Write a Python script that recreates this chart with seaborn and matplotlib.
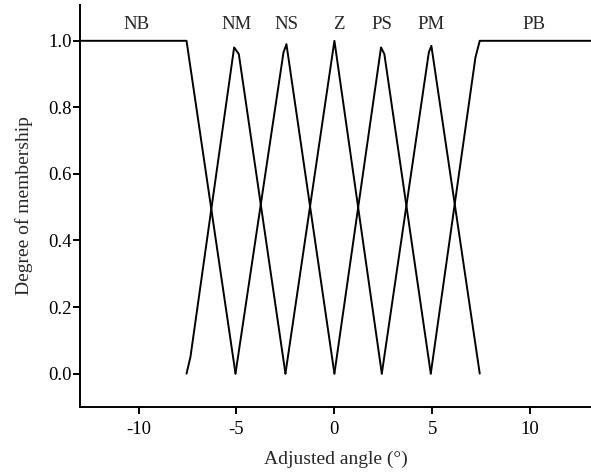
import matplotlib
matplotlib.use("Agg")
import numpy as np
import pandas as pd
import seaborn as sns
import matplotlib.pyplot as plt

# membership functions (x = adjusted angle, y = degree)
nb_x = [-13.6, -7.55, -5.05]
nb_y = [1.0, 1.0, 0.0]
nm_x = [-7.55, -7.35, -5.12, -4.88, -2.5]
nm_y = [0.0, 0.05, 0.98, 0.96, 0.0]
ns_x = [-5.05, -2.6, -2.45, 0.0]
ns_y = [0.0, 0.965, 0.99, 0.0]
z_x = [-2.5, 0.0, 2.42]
z_y = [0.0, 1.0, 0.0]
ps_x = [0.0, 2.38, 2.55, 4.92]
ps_y = [0.0, 0.98, 0.96, 0.0]
pm_x = [2.42, 4.82, 4.95, 7.42]
pm_y = [0.0, 0.965, 0.985, 0.0]
pb_x = [4.92, 7.2, 7.42, 13.6]
pb_y = [0.0, 0.95, 1.0, 1.0]

set_names = ["NB", "NM", "NS", "Z", "PS", "PM", "PB"]
label_x = [-10.1, -5.0, -2.45, 0.25, 2.4, 4.95, 10.2]

sns.set_style("ticks")
plt.rcParams["font.family"] = ["Liberation Serif", "DejaVu Serif"]
plt.rcParams["axes.unicode_minus"] = False

fig = plt.figure(figsize=(5.91, 4.72), dpi=100)
ax = fig.add_axes([0.135, 0.138, 0.865, 0.851])

curves = [(nb_x, nb_y), (nm_x, nm_y), (ns_x, ns_y), (z_x, z_y),
          (ps_x, ps_y), (pm_x, pm_y), (pb_x, pb_y)]
for name, (xs, ys) in zip(set_names, curves):
    df = pd.DataFrame({"x": xs, "y": ys})
    sns.lineplot(data=df, x="x", y="y", ax=ax, color="black", lw=1.4,
                 sort=False, estimator=None)

for name, lx in zip(set_names, label_x):
    ax.text(lx, 1.05, name, ha="center", va="center", fontsize=13.5)

ax.set_xlim(-13, 13.1)
ax.set_ylim(-0.1, 1.107)
ax.set_xticks([-10, -5, 0, 5, 10])
ax.set_yticks([0.0, 0.2, 0.4, 0.6, 0.8, 1.0])
ax.set_yticklabels([f"{v:.1f}" for v in [0.0, 0.2, 0.4, 0.6, 0.8, 1.0]])
ax.set_xlabel("Adjusted angle (\u00b0)", fontsize=14, labelpad=9)
ax.set_ylabel("Degree of membership", fontsize=14, labelpad=11)
ax.tick_params(labelsize=13.5, length=5, width=1.4, direction="out", colors="black")
ax.tick_params(axis="y", pad=1)
ax.tick_params(axis="x", pad=5)
for s in ["left", "bottom"]:
    ax.spines[s].set_linewidth(1.4)
    ax.spines[s].set_color("black")
sns.despine(ax=ax)

fig.savefig("out.png", dpi=100)
